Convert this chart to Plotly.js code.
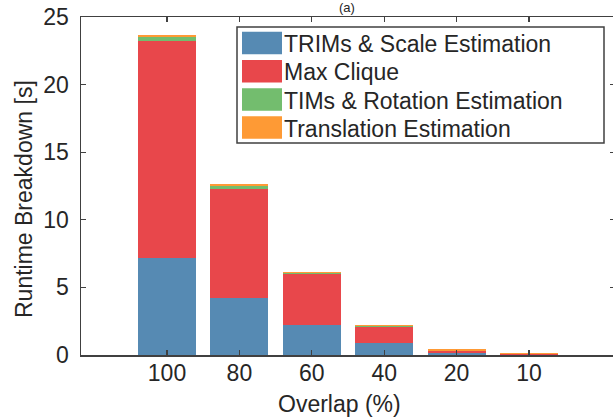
<!DOCTYPE html>
<html>
<head>
<meta charset="utf-8">
<script src="https://cdn.plot.ly/plotly-3.0.1.min.js"></script>
<style>
html, body { margin: 0; padding: 0; overflow: hidden; background: #fff; }
#chart { width: 615px; height: 417px; }
</style>
</head>
<body>
<div id="chart"></div>
<script>
// ---- data ----
const categories = ['100', '80', '60', '40', '20', '10'];
const trimsScale = [7.15, 4.25, 2.22, 0.86, 0.12, 0.03];
const maxClique = [16.05, 8.03, 3.75, 1.23, 0.15, 0.02];
const timsRotation = [0.33, 0.22, 0.11, 0.06, 0.05, 0.01];
const translation = [0.15, 0.15, 0.08, 0.08, 0.10, 0.06];
const seriesNames = ['TRIMs & Scale Estimation', 'Max Clique', 'TIMs & Rotation Estimation', 'Translation Estimation'];
const seriesColors = ['#568ab3', '#e8474b', '#73bd6e', '#fe9a35'];
const yTicks = [0, 5, 10, 15, 20, 25];
const xTitle = 'Overlap (%)';
const yTitle = 'Runtime Breakdown [s]';
const panelTitle = '(a)';

// ---- layout geometry ----
const W = 615, H = 417;
const M = { l: 81, r: 0, t: 17, b: 62 };
const plotW = W - M.l - M.r, plotH = H - M.t - M.b;
const px2x = px => (px - M.l) / plotW;
const py2y = py => (H - M.b - py) / plotH;

const FONT = 'Liberation Sans, Arial, Helvetica, sans-serif';
const TXT = '#262626';
const AX = '#404040';

const values = [trimsScale, maxClique, timsRotation, translation];
const traces = values.map((v, i) => ({
  type: 'bar',
  x: categories,
  y: v,
  name: seriesNames[i],
  marker: { color: seriesColors[i], line: { width: 0 } },
  hoverinfo: 'x+y+name'
}));

// custom legend (large swatches like the reference)
const shapes = [{
  type: 'rect', xref: 'paper', yref: 'paper',
  x0: px2x(237), x1: px2x(604), y0: py2y(27), y1: py2y(143),
  line: { color: AX, width: 1.5 }, fillcolor: '#ffffff', layer: 'above'
}];
const annotations = [];
const rowCenters = [43, 71.3, 99.5, 127.5];
seriesNames.forEach((n, i) => {
  const c = rowCenters[i];
  shapes.push({
    type: 'rect', xref: 'paper', yref: 'paper',
    x0: px2x(242), x1: px2x(282), y0: py2y(c - 11.3), y1: py2y(c + 11.3),
    line: { width: 0 }, fillcolor: seriesColors[i], layer: 'above'
  });
  annotations.push({
    xref: 'paper', yref: 'paper', x: px2x(282), y: py2y(c + 1),
    xanchor: 'left', yanchor: 'middle', showarrow: false,
    text: n, font: { family: FONT, size: 23, color: TXT }
  });
});
// axis titles placed as in the reference
annotations.push({
  xref: 'paper', yref: 'paper', x: px2x(339), y: py2y(404),
  xanchor: 'center', yanchor: 'middle', showarrow: false,
  text: xTitle, font: { family: FONT, size: 23, color: TXT }
});
annotations.push({
  xref: 'paper', yref: 'paper', x: px2x(24), y: py2y(199),
  xanchor: 'center', yanchor: 'middle', showarrow: false, textangle: -90,
  text: yTitle, font: { family: FONT, size: 23, color: TXT }
});
// panel title above the plot (small so it stays inside the page)
annotations.push({
  xref: 'paper', yref: 'paper', x: px2x(347), y: py2y(8),
  xanchor: 'center', yanchor: 'middle', showarrow: false,
  text: panelTitle, font: { family: FONT, size: 13, color: TXT }
});

const layout = {
  width: W, height: H,
  margin: M,
  paper_bgcolor: '#ffffff', plot_bgcolor: '#ffffff',
  barmode: 'stack', bargap: 0.2,
  showlegend: false,
  font: { family: FONT, size: 23, color: TXT },
  xaxis: {
    type: 'category',
    range: [-1.188, 6.188],
    showline: true, linecolor: AX, linewidth: 1.5, mirror: 'ticks',
    ticks: 'inside', ticklen: 5, tickwidth: 1.3, tickcolor: AX,
    showgrid: false, zeroline: false,
    tickfont: { family: FONT, size: 23, color: TXT },
    ticklabelstandoff: -3
  },
  yaxis: {
    range: [0, 25],
    tickvals: yTicks,
    showline: true, linecolor: AX, linewidth: 1.5, mirror: 'ticks',
    ticks: 'inside', ticklen: 5, tickwidth: 1.3, tickcolor: AX,
    showgrid: false, zeroline: false,
    tickfont: { family: FONT, size: 23, color: TXT },
    ticklabelstandoff: 6
  },
  shapes: shapes,
  annotations: annotations
};

Plotly.newPlot('chart', traces, layout, { displayModeBar: false, staticPlot: true });
</script>
</body>
</html>
